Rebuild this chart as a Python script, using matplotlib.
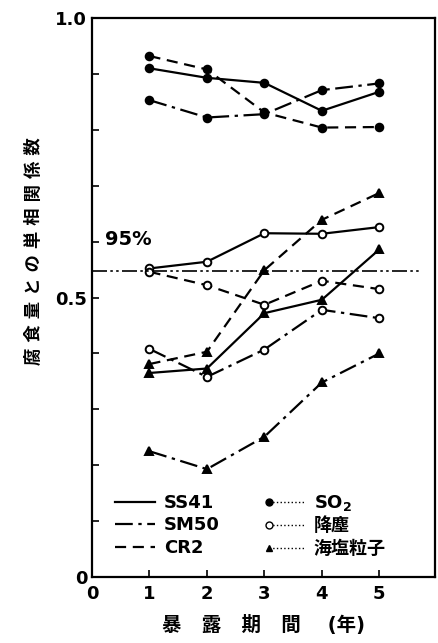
import matplotlib
matplotlib.use('Agg')
import matplotlib.pyplot as plt
from matplotlib.lines import Line2D
from matplotlib.legend_handler import HandlerLine2DCompound
import numpy as np

plt.rcParams['font.family'] = ['DejaVu Sans', 'Noto Sans CJK JP']
plt.rcParams['font.weight'] = 'bold'

# 暴露期間 (年)
years = [1, 2, 3, 4, 5]

# SO2
ss41_so2 = [0.910, 0.893, 0.884, 0.834, 0.868]
sm50_so2 = [0.853, 0.822, 0.828, 0.871, 0.883]
cr2_so2 = [0.932, 0.908, 0.831, 0.804, 0.805]
# 降塵
ss41_dust = [0.552, 0.564, 0.615, 0.614, 0.626]
sm50_dust = [0.408, 0.358, 0.407, 0.478, 0.463]
cr2_dust = [0.546, 0.522, 0.487, 0.530, 0.515]
# 海塩粒子
ss41_salt = [0.365, 0.373, 0.472, 0.496, 0.586]
sm50_salt = [0.225, 0.193, 0.251, 0.348, 0.400]
cr2_salt = [0.381, 0.403, 0.549, 0.639, 0.687]

lim95 = 0.548

dashdot = (0, (8, 2.5, 1.5, 2.5))
dashed = (0, (5, 3))
estilos = {'SS41': '-', 'SM50': dashdot, 'CR2': dashed}

fig = plt.figure(figsize=(4.39, 6.43), dpi=100)
ax = fig.add_axes([0.2096, 0.1026, 0.7814, 0.8694])

series = [
    (ss41_so2, 'SS41', 'o', 'k'), (sm50_so2, 'SM50', 'o', 'k'), (cr2_so2, 'CR2', 'o', 'k'),
    (ss41_dust, 'SS41', 'o', 'w'), (sm50_dust, 'SM50', 'o', 'w'), (cr2_dust, 'CR2', 'o', 'w'),
    (ss41_salt, 'SS41', '^', 'k'), (sm50_salt, 'SM50', '^', 'k'), (cr2_salt, 'CR2', '^', 'k'),
]
for vals, acero, mk, fc in series:
    ax.plot(years, vals, color='k', lw=1.6, linestyle=estilos[acero],
            marker=mk, markersize=5.5, markerfacecolor=fc,
            markeredgecolor='k', markeredgewidth=1.4)

# linea del 95%
ax.hlines(lim95, 0, 5.74, color='k', lw=1.2, linestyles=[(0, (9, 2, 1.5, 2, 1.5, 2))])
ax.text(0.22, 0.603, '95%', fontsize=14, fontweight='bold', va='center', ha='left')

ax.set_xlim(0, 5.97)
ax.set_ylim(0, 1.0)
ax.set_xticks([0, 1, 2, 3, 4, 5])
ax.set_xticklabels(['0', '1', '2', '3', '4', '5'])
ax.set_yticks(np.arange(0, 1.01, 0.1))
ax.set_yticklabels(['0', '', '', '', '', '0.5', '', '', '', '', '1.0'])
ax.tick_params(direction='in', length=5, width=1.2, labelsize=13)
ax.tick_params(axis='x', pad=6)
for lab in ax.get_xticklabels() + ax.get_yticklabels():
    lab.set_fontweight('bold')
for s in ax.spines.values():
    s.set_linewidth(1.6)


class MarcaIzq(HandlerLine2DCompound):
    # marcador a la izquierda de la linea punteada
    def get_xdata(self, legend, xdescent, ydescent, width, height, fontsize):
        xd = np.array([-xdescent + 0.1 * width, -xdescent + width])
        return xd, np.array([-xdescent + 0.1 * width])


h_aceros = [Line2D([], [], color='k', lw=1.6, linestyle=estilos[k]) for k in ['SS41', 'SM50', 'CR2']]
h_factores = [
    Line2D([], [], color='k', lw=1.0, linestyle=':', marker='o', markersize=5, markerfacecolor='k'),
    Line2D([], [], color='k', lw=1.0, linestyle=':', marker='o', markersize=5, markerfacecolor='w'),
    Line2D([], [], color='k', lw=1.0, linestyle=':', marker='^', markersize=5, markerfacecolor='k'),
]
etiquetas = ['SS41', 'SM50', 'CR2', 'SO$_\\mathbf{2}$', '降塵', '海塩粒子']
hmap = {h: MarcaIzq(numpoints=1) for h in h_factores}
leg = ax.legend(h_aceros + h_factores, etiquetas, ncol=2, loc='lower left',
                bbox_to_anchor=(0.02, 0.005), frameon=False, fontsize=13,
                handlelength=2.2, handletextpad=0.5, columnspacing=2.5,
                labelspacing=0.25, handler_map=hmap)
for t in leg.get_texts():
    t.set_fontweight('bold')

fig.text(0.078, 0.61, '腐 食 量 と の 単 相 関 係 数', rotation=90, fontsize=12.5,
         fontweight='bold', ha='center', va='center')
fig.text(0.60, 0.028, '暴   露   期   間    (年)', fontsize=14, fontweight='bold',
         ha='center', va='center')

fig.savefig('out.png', dpi=100)
